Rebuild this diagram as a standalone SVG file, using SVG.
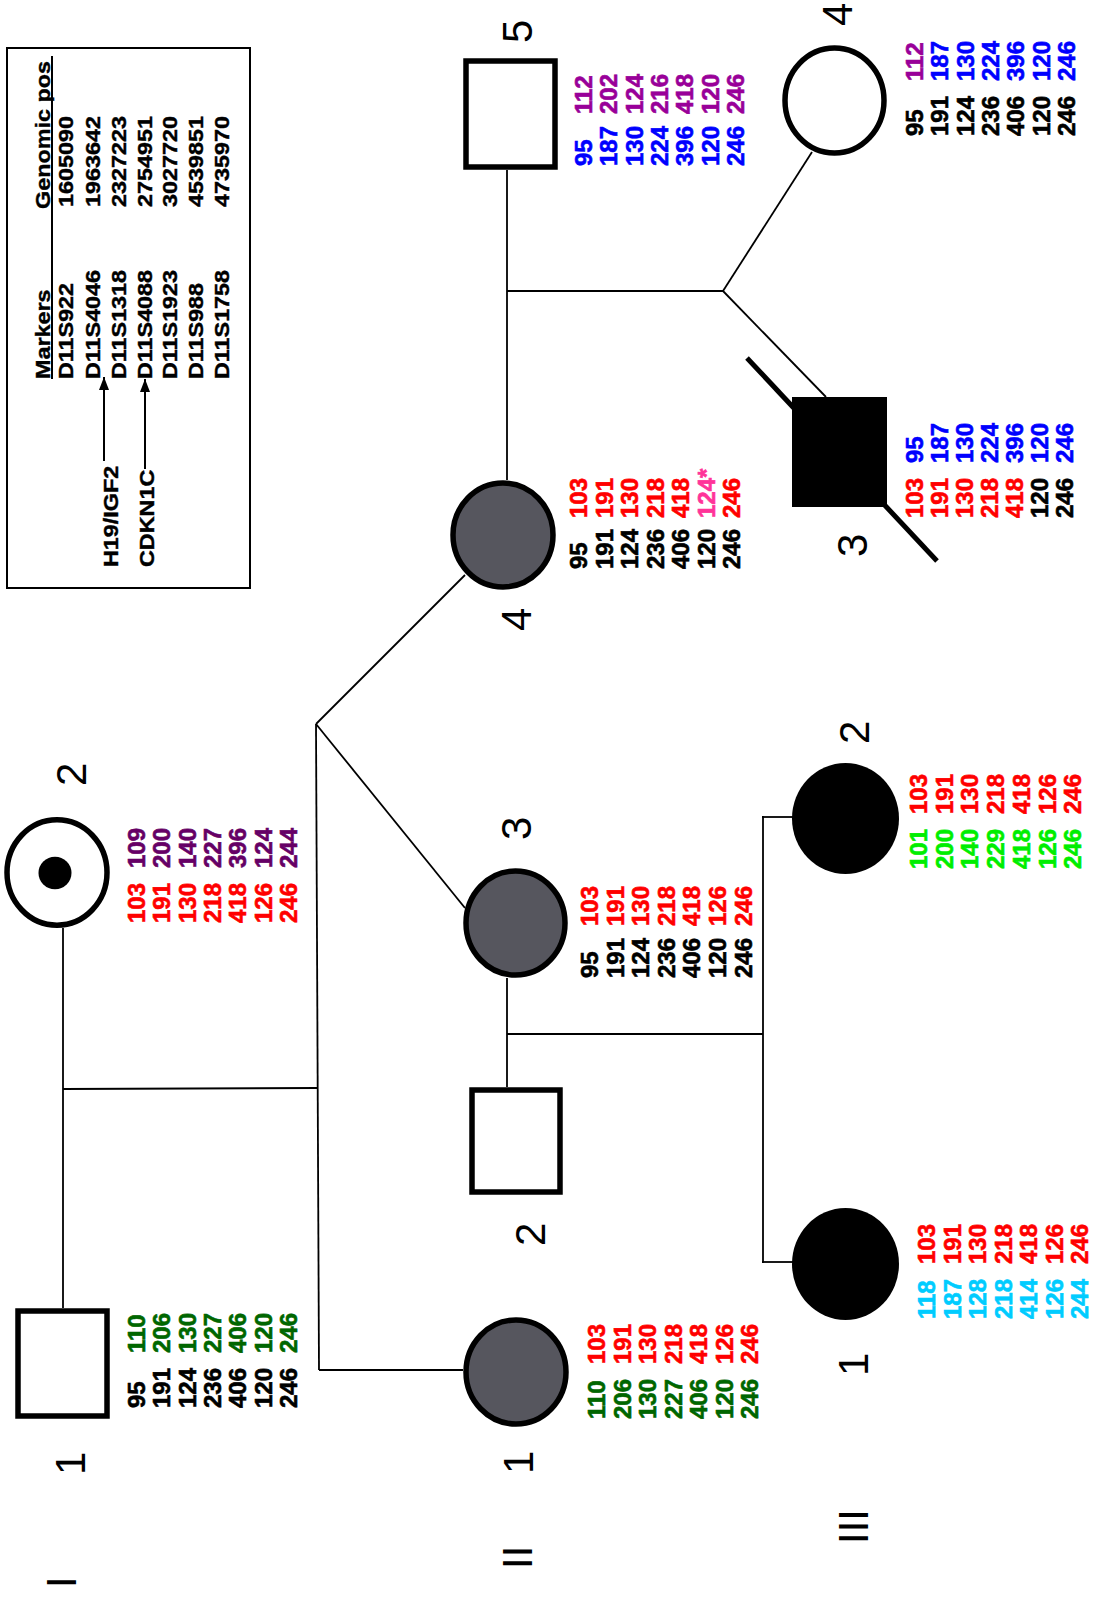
<svg xmlns="http://www.w3.org/2000/svg" width="1095" height="1598" viewBox="0 0 1095 1598">
<defs>
<style>
.a{font-family:'Liberation Sans',Arial,sans-serif;font-weight:bold;font-size:24px;stroke-width:0.6}
.lb{font-family:'Liberation Sans',Arial,sans-serif;font-size:42px;fill:#000}
.lg{font-family:'Liberation Sans',Arial,sans-serif;font-weight:bold;font-size:20.5px;fill:#000;stroke:#000;stroke-width:0.4}
.k{fill:#000;stroke:#000}.r{fill:#ff0000;stroke:#ff0000}.b{fill:#0000ff;stroke:#0000ff}.p{fill:#990099;stroke:#990099}.dp{fill:#660066;stroke:#660066}.g{fill:#006600;stroke:#006600}.lgn{fill:#00ee00;stroke:#00ee00}.c{fill:#00ccff;stroke:#00ccff}.pk{fill:#ff3399;stroke:#ff3399}
.sym{stroke:#000;stroke-width:5.5}
.w{fill:#fff}.gr{fill:#56565e}.bl{fill:#000}
.con line{stroke:#000;stroke-width:1.8;fill:none}
</style>
<marker id="ah" viewBox="0 -5 13 10" refX="13" refY="0" markerWidth="13" markerHeight="10" markerUnits="userSpaceOnUse" orient="auto">
<path d="M0,-5 L13,0 L0,5 z" fill="#000"/>
</marker>
</defs>
<rect width="1095" height="1598" fill="#fff"/>

<g id="legend">
<rect x="7" y="48" width="243" height="540" fill="none" stroke="#000" stroke-width="2"/>
<line x1="52" y1="56" x2="52" y2="379" stroke="#000" stroke-width="2"/>
<text class="lg" transform="translate(50,379) rotate(-90) scale(1.14,1)">Markers</text>
<text class="lg" transform="translate(50,209) rotate(-90) scale(1.14,1)">Genomic pos</text>
<text class="lg" transform="translate(73,379) rotate(-90) scale(1.14,1)">D11S922</text>
<text class="lg" transform="translate(100,379) rotate(-90) scale(1.14,1)">D11S4046</text>
<text class="lg" transform="translate(126,379) rotate(-90) scale(1.14,1)">D11S1318</text>
<text class="lg" transform="translate(152,379) rotate(-90) scale(1.14,1)">D11S4088</text>
<text class="lg" transform="translate(177,379) rotate(-90) scale(1.14,1)">D11S1923</text>
<text class="lg" transform="translate(203,379) rotate(-90) scale(1.14,1)">D11S988</text>
<text class="lg" transform="translate(229,379) rotate(-90) scale(1.14,1)">D11S1758</text>
<text class="lg" transform="translate(73,207) rotate(-90) scale(1.14,1)">1605090</text>
<text class="lg" transform="translate(100,207) rotate(-90) scale(1.14,1)">1963642</text>
<text class="lg" transform="translate(126,207) rotate(-90) scale(1.14,1)">2327223</text>
<text class="lg" transform="translate(152,207) rotate(-90) scale(1.14,1)">2754951</text>
<text class="lg" transform="translate(177,207) rotate(-90) scale(1.14,1)">3027720</text>
<text class="lg" transform="translate(203,207) rotate(-90) scale(1.14,1)">4539851</text>
<text class="lg" transform="translate(229,207) rotate(-90) scale(1.14,1)">4735970</text>
<text class="lg" transform="translate(118,567) rotate(-90) scale(1.14,1)">H19/IGF2</text>
<text class="lg" transform="translate(154,567) rotate(-90) scale(1.14,1)">CDKN1C</text>
<line x1="104" y1="461" x2="104" y2="377" stroke="#000" stroke-width="2" marker-end="url(#ah)"/>
<line x1="145" y1="469" x2="145" y2="379" stroke="#000" stroke-width="2" marker-end="url(#ah)"/>
</g>

<g id="connectors" class="con">
<line x1="63" y1="928" x2="63" y2="1308"/>
<line x1="63" y1="1089" x2="317" y2="1088"/>
<line x1="316" y1="724" x2="319" y2="1370"/>
<line x1="319" y1="1370" x2="463" y2="1370"/>
<line x1="316" y1="724" x2="465" y2="575"/>
<line x1="316" y1="724" x2="465" y2="908"/>
<line x1="507" y1="170" x2="507" y2="480"/>
<line x1="507" y1="291" x2="723" y2="291"/>
<line x1="723" y1="291" x2="812" y2="152"/>
<line x1="723" y1="291" x2="826" y2="397"/>
<line x1="507" y1="978" x2="507" y2="1087"/>
<line x1="507" y1="1034" x2="763" y2="1034"/>
<line x1="763" y1="816" x2="763" y2="1263"/>
<line x1="762" y1="817" x2="793" y2="817"/>
<line x1="762" y1="1262" x2="793" y2="1262"/>
</g>

<g id="gen-labels">
<text class="lb" transform="translate(76,1588) rotate(-90)">I</text>
<text class="lb" transform="translate(532,1569) rotate(-90)">II</text>
<text class="lb" transform="translate(868,1544) rotate(-90)">III</text>
</g>

<g id="I-1">
<rect class="sym w" x="18" y="1311" width="89" height="105"/>
<text class="lb" transform="translate(85,1475) rotate(-90)">1</text>
<g class="a" transform="translate(145,1408) rotate(-90)">
<text class="k" x="0" y="0">95</text><text class="k" x="0" y="25.3">191</text><text class="k" x="0" y="50.6">124</text><text class="k" x="0" y="75.9">236</text><text class="k" x="0" y="101.2">406</text><text class="k" x="0" y="126.5">120</text><text class="k" x="0" y="151.8">246</text>
<text class="g" x="55" y="0">110</text><text class="g" x="55" y="25.3">206</text><text class="g" x="55" y="50.6">130</text><text class="g" x="55" y="75.9">227</text><text class="g" x="55" y="101.2">406</text><text class="g" x="55" y="126.5">120</text><text class="g" x="55" y="151.8">246</text>
</g>
</g>

<g id="I-2">
<ellipse class="sym w" cx="57" cy="872.5" rx="50" ry="52.7"/>
<ellipse cx="55" cy="873" rx="16.5" ry="16.2" fill="#000"/>
<text class="lb" transform="translate(86,786) rotate(-90)">2</text>
<g class="a" transform="translate(145,923) rotate(-90)">
<text class="r" x="0" y="0">103</text><text class="r" x="0" y="25.3">191</text><text class="r" x="0" y="50.6">130</text><text class="r" x="0" y="75.9">218</text><text class="r" x="0" y="101.2">418</text><text class="r" x="0" y="126.5">126</text><text class="r" x="0" y="151.8">246</text>
<text class="dp" x="55" y="0">109</text><text class="dp" x="55" y="25.3">200</text><text class="dp" x="55" y="50.6">140</text><text class="dp" x="55" y="75.9">227</text><text class="dp" x="55" y="101.2">396</text><text class="dp" x="55" y="126.5">124</text><text class="dp" x="55" y="151.8">244</text>
</g>
</g>

<g id="II-5">
<rect class="sym w" x="466" y="61" width="89" height="106"/>
<text class="lb" transform="translate(532,43) rotate(-90)">5</text>
<g class="a" transform="translate(592,166) rotate(-90)">
<text class="b" x="0" y="0">95</text><text class="b" x="0" y="25.3">187</text><text class="b" x="0" y="50.6">130</text><text class="b" x="0" y="75.9">224</text><text class="b" x="0" y="101.2">396</text><text class="b" x="0" y="126.5">120</text><text class="b" x="0" y="151.8">246</text>
<text class="p" x="52" y="0">112</text><text class="p" x="52" y="25.3">202</text><text class="p" x="52" y="50.6">124</text><text class="p" x="52" y="75.9">216</text><text class="p" x="52" y="101.2">418</text><text class="p" x="52" y="126.5">120</text><text class="p" x="52" y="151.8">246</text>
</g>
</g>

<g id="III-4">
<ellipse class="sym w" cx="834.5" cy="100.5" rx="49.5" ry="52.5"/>
<text class="lb" transform="translate(852,26) rotate(-90)">4</text>
<g class="a" transform="translate(923,136) rotate(-90)">
<text class="k" x="0" y="0">95</text><text class="k" x="0" y="25.3">191</text><text class="k" x="0" y="50.6">124</text><text class="k" x="0" y="75.9">236</text><text class="k" x="0" y="101.2">406</text><text class="k" x="0" y="126.5">120</text><text class="k" x="0" y="151.8">246</text>
<text class="p" x="55" y="0">112</text><text class="b" x="55" y="25.3">187</text><text class="b" x="55" y="50.6">130</text><text class="b" x="55" y="75.9">224</text><text class="b" x="55" y="101.2">396</text><text class="b" x="55" y="126.5">120</text><text class="b" x="55" y="151.8">246</text>
</g>
</g>

<g id="II-4">
<ellipse class="sym gr" cx="503" cy="535" rx="50" ry="52"/>
<text class="lb" transform="translate(531,631) rotate(-90)">4</text>
<g class="a" transform="translate(587,569) rotate(-90)">
<text class="k" x="0" y="0">95</text><text class="k" x="0" y="25.5">191</text><text class="k" x="0" y="51">124</text><text class="k" x="0" y="76.5">236</text><text class="k" x="0" y="102">406</text><text class="k" x="0" y="127.5">120</text><text class="k" x="0" y="153">246</text>
<text class="r" x="51" y="0">103</text><text class="r" x="51" y="25.5">191</text><text class="r" x="51" y="51">130</text><text class="r" x="51" y="76.5">218</text><text class="r" x="51" y="102">418</text><text class="pk" x="51" y="127.5">124*</text><text class="r" x="51" y="153">246</text>
</g>
</g>

<g id="III-3">
<line x1="747" y1="358" x2="937" y2="561" stroke="#000" stroke-width="5"/>
<rect x="792" y="397" width="95" height="110" fill="#000"/>
<text class="lb" transform="translate(867,557) rotate(-90)">3</text>
<g class="a" transform="translate(923,518) rotate(-90)">
<text class="r" x="0" y="0">103</text><text class="r" x="0" y="25">191</text><text class="r" x="0" y="50">130</text><text class="r" x="0" y="75">218</text><text class="r" x="0" y="100">418</text><text class="k" x="0" y="125">120</text><text class="k" x="0" y="150">246</text>
<text class="b" x="55" y="0">95</text><text class="b" x="55" y="25">187</text><text class="b" x="55" y="50">130</text><text class="b" x="55" y="75">224</text><text class="b" x="55" y="100">396</text><text class="b" x="55" y="125">120</text><text class="b" x="55" y="150">246</text>
</g>
</g>

<g id="II-3">
<ellipse class="sym gr" cx="515.5" cy="923" rx="49.5" ry="52"/>
<text class="lb" transform="translate(531,840) rotate(-90)">3</text>
<g class="a" transform="translate(598,978) rotate(-90)">
<text class="k" x="0" y="0">95</text><text class="k" x="0" y="25.6">191</text><text class="k" x="0" y="51.2">124</text><text class="k" x="0" y="76.8">236</text><text class="k" x="0" y="102.4">406</text><text class="k" x="0" y="128">120</text><text class="k" x="0" y="153.6">246</text>
<text class="r" x="52" y="0">103</text><text class="r" x="52" y="25.6">191</text><text class="r" x="52" y="51.2">130</text><text class="r" x="52" y="76.8">218</text><text class="r" x="52" y="102.4">418</text><text class="r" x="52" y="128">126</text><text class="r" x="52" y="153.6">246</text>
</g>
</g>

<g id="II-2">
<rect class="sym w" x="472" y="1090" width="88" height="102"/>
<text class="lb" transform="translate(545,1246) rotate(-90)">2</text>
</g>

<g id="III-2">
<ellipse cx="845.5" cy="818.5" rx="53.5" ry="55.5" fill="#000"/>
<text class="lb" transform="translate(869,744) rotate(-90)">2</text>
<g class="a" transform="translate(927,869) rotate(-90)">
<text class="lgn" x="0" y="0">101</text><text class="lgn" x="0" y="25.7">200</text><text class="lgn" x="0" y="51.4">140</text><text class="lgn" x="0" y="77.1">229</text><text class="lgn" x="0" y="102.8">418</text><text class="lgn" x="0" y="128.5">126</text><text class="lgn" x="0" y="154.2">246</text>
<text class="r" x="55" y="0">103</text><text class="r" x="55" y="25.7">191</text><text class="r" x="55" y="51.4">130</text><text class="r" x="55" y="77.1">218</text><text class="r" x="55" y="102.8">418</text><text class="r" x="55" y="128.5">126</text><text class="r" x="55" y="154.2">246</text>
</g>
</g>

<g id="II-1">
<ellipse class="sym gr" cx="516" cy="1372" rx="50" ry="52"/>
<text class="lb" transform="translate(533,1474) rotate(-90)">1</text>
<g class="a" transform="translate(605,1419) rotate(-90)">
<text class="g" x="0" y="0">110</text><text class="g" x="0" y="25.5">206</text><text class="g" x="0" y="51">130</text><text class="g" x="0" y="76.5">227</text><text class="g" x="0" y="102">406</text><text class="g" x="0" y="127.5">120</text><text class="g" x="0" y="153">246</text>
<text class="r" x="55" y="0">103</text><text class="r" x="55" y="25.5">191</text><text class="r" x="55" y="51">130</text><text class="r" x="55" y="76.5">218</text><text class="r" x="55" y="102">418</text><text class="r" x="55" y="127.5">126</text><text class="r" x="55" y="153">246</text>
</g>
</g>

<g id="III-1">
<ellipse cx="845.5" cy="1264" rx="53.5" ry="56" fill="#000"/>
<text class="lb" transform="translate(868,1376) rotate(-90)">1</text>
<g class="a" transform="translate(935,1319) rotate(-90)">
<text class="c" x="0" y="0">118</text><text class="c" x="0" y="25.5">187</text><text class="c" x="0" y="51">128</text><text class="c" x="0" y="76.5">218</text><text class="c" x="0" y="102">414</text><text class="c" x="0" y="127.5">126</text><text class="c" x="0" y="153">244</text>
<text class="r" x="55" y="0">103</text><text class="r" x="55" y="25.5">191</text><text class="r" x="55" y="51">130</text><text class="r" x="55" y="76.5">218</text><text class="r" x="55" y="102">418</text><text class="r" x="55" y="127.5">126</text><text class="r" x="55" y="153">246</text>
</g>
</g>
</svg>
